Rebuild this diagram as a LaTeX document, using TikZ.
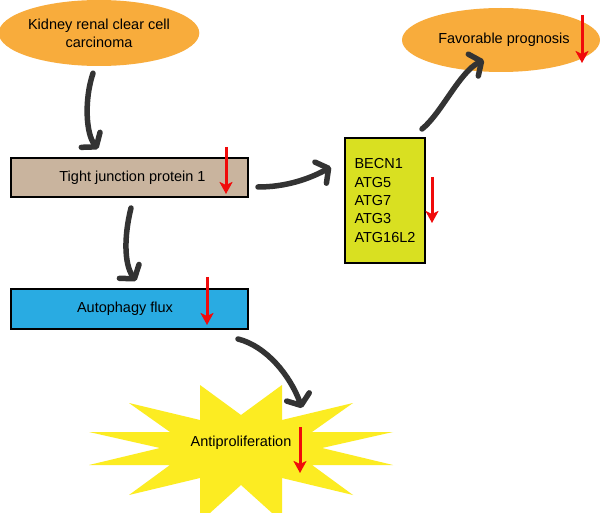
\documentclass[tikz,border=0pt]{standalone}
\usepackage{fontspec}
\setmainfont{Liberation Sans}
\usetikzlibrary{arrows.meta,shapes.geometric}
\definecolor{orangeF}{RGB}{248,172,60}
\definecolor{tanF}{RGB}{201,180,158}
\definecolor{blueF}{RGB}{41,171,226}
\definecolor{limeF}{RGB}{217,224,33}
\definecolor{starF}{RGB}{252,236,34}
\definecolor{redA}{RGB}{240,10,10}
\definecolor{darkA}{RGB}{51,51,51}
\tikzset{
  txt/.style={font=\fontsize{14.5}{18.3}\selectfont, text=black},
  oval/.style={txt, ellipse, fill=orangeF, draw=none, inner sep=0pt},
  boxnode/.style={txt, rectangle, draw=black, line width=2pt, inner sep=0pt},
  conn/.style={draw=darkA, line width=5.5pt, line cap=round,
    -{Straight Barb[length=9pt,width=24pt,line cap=round,line join=round]}},
  downmark/.style={draw=redA, line width=3pt,
    -{Stealth[length=12pt,width=13pt,inset=3pt]}}
}
\begin{document}
\begin{tikzpicture}[x=1pt,y=-1pt]
\clip (0,0) rectangle (600,513);
\fill[white] (0,0) rectangle (600,513);

% star
\fill[starF] (200,385) -- (241,415) -- (282,385) -- (282,420) -- (353,403)
  -- (312,432) -- (393,432) -- (322,448) -- (393,465) -- (312,465)
  -- (353,495) -- (282,478) -- (282,522) -- (241,485) -- (200,522)
  -- (200,478) -- (129,495) -- (170,465) -- (89,465) -- (160,448)
  -- (89,432) -- (170,432) -- (129,403) -- (200,420) -- cycle;

% nodes
\node[oval, minimum width=197pt, minimum height=66pt, align=center] (kidney) at (99,33)
  {Kidney renal clear cell\\carcinoma};
\node[oval, minimum width=198pt, minimum height=64pt] (fav) at (501,40)
  {\hspace*{6pt}Favorable prognosis};
\node[boxnode, fill=tanF, minimum width=237pt, minimum height=39pt] (tjp) at (129.5,177.5)
  {\hspace*{6pt}Tight junction protein 1};
\node[boxnode, fill=limeF, minimum width=80pt, minimum height=125pt, align=left] (becn) at (385,200.5)
  {BECN1\\ATG5\\ATG7\\ATG3\\ATG16L2};
\node[boxnode, fill=blueF, minimum width=237pt, minimum height=40pt] (auto) at (129.5,309)
  {\hspace*{-9pt}Autophagy flux};
\node[txt, inner sep=0pt] (anti) at (241,443) {Antiproliferation};

% connectors
\draw[conn] ([xshift=-6pt,yshift=-7pt]kidney.south)
  .. controls +(-9,27) and +(-12,-15) .. ([xshift=-31.5pt,yshift=8pt]tjp.north);
\draw[conn] ([xshift=1.5pt,yshift=-10pt]tjp.south)
  .. controls +(-7,28) and +(-12,-17) .. ([xshift=6.5pt,yshift=7pt]auto.north);
\draw[conn] ([xshift=9pt,yshift=-9.5pt]tjp.east)
  .. controls +(28,0) and +(-22,12) .. ([xshift=-13pt,yshift=-30pt]becn.north west);
\draw[conn] ([xshift=-4pt,yshift=8pt]becn.north east)
  .. controls +(19,-15) and +(-24,11) .. ([xshift=-17pt,yshift=12pt]fav.south);
\draw[conn] ([xshift=-11pt,yshift=-9pt]auto.south east)
  .. controls +(28,7) and +(-12,-33) .. ([xshift=61pt,yshift=35pt]anti.center);

% down marks
\draw[downmark] (226,147) -- (226,194);
\draw[downmark] (582,15) -- (582,63);
\draw[downmark] (432,177) -- (432,223);
\draw[downmark] (207,277) -- (207,325);
\draw[downmark] (300,427) -- (300,473);
\end{tikzpicture}
\end{document}
